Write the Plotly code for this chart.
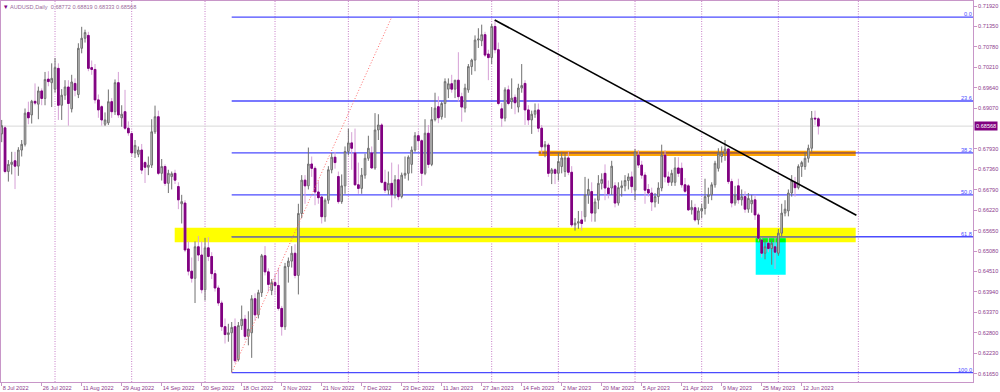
import plotly.graph_objects as go

# ---------------- data ----------------
symbol_title = "AUDUSD,Daily  0.68772 0.68819 0.68333 0.68568"

# trading-day index 0 = 8 Jul 2022 ... 245 = 19 Jun 2023
opens = [
    .6835, .6852, .6730, .6750, .6760, .6745, .6790, .6806, .6895, .6888,
    .6926, .6918, .6955, .6934, .6988, .6978, .6960, .7018, .6915, .6943,
    .6966, .6905, .6976, .6945, .7074, .7102, .7110, .7020, .7015, .6930,
    .6911, .6862, .6866, .6925, .6897, .6978, .6880, .6897, .6851, .6836,
    .6782, .6778, .6790, .6755, .6742, .6748, .6841, .6883, .6725, .6744,
    .6697, .6716, .6725, .6688, .6640, .6642, .6514, .6452, .6432, .6520,
    .6497, .6400, .6517, .6493, .6445, .6405, .6363, .6297, .6275, .6280,
    .6297, .6205, .6300, .6318, .6270, .6280, .6375, .6330, .6392, .6495,
    .6450, .6398, .6420, .6412, .6348, .6297, .6465, .6480, .6502, .6440,
    .6613, .6706, .6690, .6751, .6739, .6673, .6659, .6604, .6650, .6735,
    .6770, .6716, .6646, .6690, .6786, .6810, .6782, .6693, .6683, .6720,
    .6767, .6782, .6740, .6846, .6860, .6700, .6678, .6697, .6665, .6707,
    .6660, .6720, .6725, .6750, .6790, .6830, .6816, .6725, .6837, .6750,
    .6875, .6911, .6883, .6920, .6960, .6975, .6960, .6985, .6939, .6907,
    .6958, .7023, .7041, .7097, .7095, .7112, .7058, .7048, .7135, .7070,
    .6905, .6879, .6958, .6925, .6937, .6910, .6963, .6976, .6902, .6874,
    .6890, .6902, .6851, .6799, .6804, .6725, .6735, .6725, .6744, .6730,
    .6768, .6728, .6581, .6586, .6595, .6604, .6665, .6674, .6614, .6650,
    .6697, .6725, .6684, .6684, .6690, .6642, .6685, .6690, .6705, .6715,
    .6678, .6776, .6748, .6720, .6680, .6670, .6645, .6660, .6684, .6776,
    .6715, .6700, .6700, .6740, .6739, .6693, .6690, .6623, .6629, .6595,
    .6620, .6627, .6660, .6665, .6693, .6739, .6772, .6781, .6793, .6702,
    .6642, .6690, .6651, .6660, .6625, .6640, .6651, .6609, .6539, .6502,
    .6530, .6515, .6520, .6502, .6558, .6614, .6620, .6670, .6700, .6685,
    .6744, .6744, .6767, .6795, .6879, .68772,
]
highs = [
    .6874, .6858, .6762, .6785, .6785, .6798, .6818, .6906, .6925, .6930,
    .6976, .6967, .6962, .7008, .7010, .7032, .7047, .7032, .6960, .6985,
    .6985, .7000, .6990, .7088, .7134, .7126, .7120, .7040, .7030, .6945,
    .6915, .6895, .6959, .6935, .6987, .7008, .6915, .6958, .6870, .6840,
    .6818, .6800, .6807, .6760, .6772, .6876, .6914, .6900, .6765, .6750,
    .6735, .6730, .6735, .6700, .6665, .6650, .6535, .6490, .6535, .6550,
    .6535, .6545, .6547, .6505, .6455, .6412, .6370, .6320, .6305, .6310,
    .6320, .6310, .6356, .6330, .6340, .6385, .6390, .6400, .6500, .6522,
    .6460, .6430, .6445, .6461, .6355, .6475, .6490, .6522, .6527, .6640,
    .6720, .6720, .6797, .6772, .6745, .6703, .6662, .6655, .6745, .6782,
    .6785, .6730, .6722, .6800, .6850, .6840, .6850, .6755, .6740, .6780,
    .6830, .6800, .6893, .6890, .6865, .6735, .6730, .6755, .6720, .6750,
    .6727, .6772, .6775, .6800, .6840, .6840, .6820, .6876, .6860, .6910,
    .6950, .6940, .6925, .6990, .6990, .7000, .6985, .7063, .6950, .6975,
    .7030, .7045, .7110, .7130, .7140, .7120, .7070, .7142, .7153, .7090,
    .6921, .6965, .6970, .6990, .6945, .6975, .7030, .6985, .6915, .6900,
    .6920, .6920, .6860, .6815, .6810, .6740, .6740, .6783, .6785, .6780,
    .6785, .6745, .6600, .6620, .6620, .6715, .6710, .6700, .6655, .6720,
    .6725, .6750, .6705, .6760, .6700, .6700, .6705, .6720, .6725, .6730,
    .6793, .6790, .6760, .6728, .6695, .6685, .6670, .6700, .6805, .6790,
    .6730, .6735, .6770, .6770, .6755, .6712, .6695, .6650, .6640, .6630,
    .6640, .6710, .6685, .6700, .6760, .6795, .6800, .6818, .6795, .6710,
    .6690, .6710, .6680, .6675, .6670, .6665, .6665, .6615, .6545, .6540,
    .6545, .6540, .6545, .6570, .6640, .6650, .6680, .6720, .6715, .6750,
    .6760, .6785, .6805, .6899, .6900, .68819,
]
lows = [
    .6812, .6725, .6702, .6722, .6681, .6718, .6772, .6800, .6862, .6864,
    .6915, .6876, .6915, .6915, .6968, .6910, .6950, .6874, .6874, .6930,
    .6858, .6895, .6940, .6935, .7060, .7090, .7010, .7000, .6920, .6880,
    .6858, .6857, .6860, .6880, .6888, .6880, .6855, .6846, .6830, .6772,
    .6768, .6770, .6723, .6698, .6720, .6740, .6835, .6720, .6705, .6690,
    .6670, .6680, .6695, .6625, .6585, .6505, .6440, .6420, .6363, .6480,
    .6390, .6370, .6480, .6430, .6395, .6355, .6285, .6250, .6255, .6170,
    .6195, .6200, .6288, .6260, .6245, .6210, .6315, .6320, .6380, .6440,
    .6395, .6385, .6385, .6342, .6272, .6288, .6420, .6462, .6432, .6387,
    .6600, .6640, .6680, .6715, .6636, .6640, .6585, .6590, .6640, .6725,
    .6738, .6640, .6640, .6668, .6775, .6735, .6690, .6668, .6668, .6710,
    .6760, .6738, .6735, .6818, .6697, .6670, .6665, .6630, .6655, .6650,
    .6655, .6710, .6705, .6725, .6785, .6790, .6690, .6720, .6740, .6745,
    .6870, .6865, .6875, .6880, .6935, .6950, .6935, .6925, .6869, .6895,
    .6950, .7000, .7010, .7075, .7080, .7050, .6985, .7030, .7060, .6915,
    .6855, .6870, .6915, .6905, .6890, .6895, .6950, .6860, .6860, .6835,
    .6880, .6840, .6780, .6770, .6715, .6695, .6695, .6705, .6725, .6715,
    .6720, .6575, .6565, .6570, .6565, .6590, .6640, .6590, .6590, .6625,
    .6680, .6650, .6655, .6665, .6630, .6635, .6660, .6675, .6680, .6670,
    .6650, .6740, .6710, .6640, .6660, .6620, .6630, .6640, .6675, .6700,
    .6690, .6690, .6690, .6715, .6685, .6670, .6620, .6610, .6590, .6582,
    .6600, .6610, .6640, .6650, .6685, .6730, .6755, .6760, .6695, .6630,
    .6635, .6640, .6635, .6615, .6615, .6615, .6595, .6535, .6490, .6485,
    .6505, .6470, .6458, .6495, .6550, .6605, .6605, .6660, .6660, .6680,
    .6715, .6735, .6755, .6785, .6860, .68333,
]
closes = [
    .6858, .6730, .6750, .6756, .6745, .6790, .6806, .6893, .6880, .6926,
    .6921, .6955, .6934, .6987, .6981, .6990, .7020, .6915, .6943, .6966,
    .6920, .6980, .6957, .7074, .7102, .7118, .7018, .7015, .6930, .6902,
    .6874, .6874, .6925, .6897, .6978, .6888, .6890, .6851, .6838, .6782,
    .6803, .6790, .6734, .6742, .6748, .6841, .6883, .6725, .6744, .6697,
    .6725, .6724, .6706, .6651, .6646, .6511, .6452, .6432, .6520, .6497,
    .6400, .6517, .6493, .6445, .6405, .6363, .6297, .6275, .6280, .6295,
    .6202, .6300, .6318, .6270, .6290, .6375, .6330, .6392, .6495, .6450,
    .6415, .6420, .6412, .6348, .6297, .6465, .6480, .6502, .6440, .6613,
    .6706, .6690, .6751, .6739, .6673, .6657, .6604, .6650, .6735, .6770,
    .6755, .6646, .6690, .6786, .6810, .6795, .6693, .6683, .6720, .6767,
    .6795, .6740, .6846, .6860, .6700, .6678, .6697, .6665, .6707, .6660,
    .6720, .6725, .6770, .6790, .6830, .6816, .6725, .6837, .6750, .6875,
    .6907, .6880, .6920, .6981, .6975, .6960, .6985, .6939, .6910, .6963,
    .7023, .7041, .7097, .7100, .7112, .7055, .7048, .7135, .7070, .6920,
    .6879, .6958, .6920, .6935, .6922, .6963, .6970, .6902, .6874, .6890,
    .6900, .6851, .6799, .6805, .6725, .6735, .6725, .6758, .6768, .6768,
    .6728, .6581, .6586, .6590, .6585, .6665, .6680, .6614, .6645, .6697,
    .6708, .6684, .6668, .6745, .6642, .6685, .6690, .6705, .6715, .6688,
    .6785, .6748, .6720, .6678, .6670, .6645, .6660, .6684, .6776, .6715,
    .6700, .6725, .6740, .6725, .6693, .6675, .6623, .6630, .6595, .6620,
    .6627, .6660, .6665, .6693, .6753, .6781, .6781, .6793, .6702, .6642,
    .6665, .6651, .6660, .6625, .6655, .6650, .6609, .6544, .6502, .6520,
    .6515, .6530, .6505, .6558, .6614, .6625, .6670, .6705, .6685, .6744,
    .6755, .6767, .6795, .6879, .6877, .68568,
]

# x-axis labels (every 12th trading day)
date_tick_labels = [
    "8 Jul 2022", "26 Jul 2022", "11 Aug 2022", "29 Aug 2022", "14 Sep 2022",
    "30 Sep 2022", "18 Oct 2022", "3 Nov 2022", "21 Nov 2022", "7 Dec 2022",
    "23 Dec 2022", "11 Jan 2023", "27 Jan 2023", "14 Feb 2023", "2 Mar 2023",
    "20 Mar 2023", "5 Apr 2023", "21 Apr 2023", "9 May 2023", "25 May 2023",
    "12 Jun 2023",
]
date_tick_idx = [0, 12, 24, 36, 48, 60, 72, 84, 96, 108, 120, 132, 144, 156,
                 168, 180, 192, 204, 216, 228, 240]

# month separators (bar index of first trading day of month)
month_start_idx = [16, 39, 61, 82, 104, 125, 147, 167, 190, 210, 233, 257]

price_ticks = [0.61650, 0.62230, 0.62800, 0.63370, 0.63940, 0.64510, 0.65080,
               0.65650, 0.66220, 0.66790, 0.67360, 0.67930, 0.69070,
               0.69640, 0.70210, 0.70780, 0.71350, 0.71920]

# Fibonacci retracement
fib_high = 0.7161
fib_low = 0.6169
fib_start_idx = 69
fib_levels = [0.0, 23.6, 38.2, 50.0, 61.8, 100.0]
fib_labels = ["0.0", "23.6", "38.2", "50.0", "61.8", "100.0"]
fib_anchor_idx = [69, 117]          # diagonal dotted line (low -> high)

# drawn zones  (x from/to in bar index, price low/high)
support_zone_x = [51.9, 256.2]
support_zone_y = [0.65325, 0.65733]
resist_zone_x = [161.1, 256.2]
resist_zone_y = [0.67734, 0.67882]
spike_zone_x = [226.2, 235.2]
spike_zone_y = [0.64421, 0.65437]

# descending trendline
trend_x = [147.9, 256.4]
trend_y = [0.7153, 0.6608]

last_price = 0.68568

# ---------------- styling ----------------
axis_col = "#c896c8"
label_col = "#8c3c8c"
fib_col = "#4b4bff"
FONT = "Liberation Sans"
FS = 5.6

x_range = [-0.21, 291.39]
y_range = [0.61426, 0.72060]

n = len(closes)
idx = list(range(n))

fig = go.Figure()

# full candles (wicks + up bodies)
fig.add_trace(go.Candlestick(
    x=idx, open=opens, high=highs, low=lows, close=closes,
    increasing=dict(line=dict(color="#707070", width=1), fillcolor="#c8c8c8"),
    decreasing=dict(line=dict(color="#d6a0d6", width=1), fillcolor="#800080"),
    whiskerwidth=0, hoverinfo="skip", showlegend=False,
))
# down-candle bodies drawn solid purple on top
dn = [i for i in idx if closes[i] < opens[i]]
fig.add_trace(go.Candlestick(
    x=dn, open=[opens[i] for i in dn], high=[opens[i] for i in dn],
    low=[closes[i] for i in dn], close=[closes[i] for i in dn],
    increasing=dict(line=dict(color="#800080", width=1), fillcolor="#800080"),
    decreasing=dict(line=dict(color="#800080", width=1), fillcolor="#800080"),
    whiskerwidth=0, hoverinfo="skip", showlegend=False,
))

shapes = []
# month separators
for m in month_start_idx:
    shapes.append(dict(type="line", xref="x", yref="paper", x0=m, x1=m, y0=0, y1=1,
                       line=dict(color="#c77ec7", width=1, dash="1px,1.5px"), layer="below"))
# zones
shapes.append(dict(type="rect", xref="x", yref="y", x0=support_zone_x[0], x1=support_zone_x[1],
                   y0=support_zone_y[0], y1=support_zone_y[1], fillcolor="#ffff00",
                   line=dict(width=0), layer="below"))
shapes.append(dict(type="rect", xref="x", yref="y", x0=resist_zone_x[0], x1=resist_zone_x[1],
                   y0=resist_zone_y[0], y1=resist_zone_y[1], fillcolor="#ffa500",
                   line=dict(width=0), layer="below"))
shapes.append(dict(type="rect", xref="x", yref="y", x0=spike_zone_x[0], x1=spike_zone_x[1],
                   y0=spike_zone_y[0], y1=spike_zone_y[1], fillcolor="#00ffff",
                   line=dict(width=0), layer="below"))
shapes.append(dict(type="rect", xref="x", yref="y", x0=spike_zone_x[0], x1=spike_zone_x[1],
                   y0=support_zone_y[0], y1=spike_zone_y[1], fillcolor="#00ff00",
                   line=dict(width=0), layer="below"))
# current price line
shapes.append(dict(type="line", xref="paper", yref="y", x0=0, x1=1, y0=last_price, y1=last_price,
                   line=dict(color="#d8d8d8", width=1), layer="below"))
# fib lines
fib_range = fib_high - fib_low
fib_prices = [fib_high - lv / 100.0 * fib_range for lv in fib_levels]
for lv, p in zip(fib_levels, fib_prices):
    shapes.append(dict(type="line", xref="x", yref="y", x0=fib_start_idx, x1=x_range[1],
                       y0=p, y1=p, line=dict(color=fib_col, width=1.3), layer="below"))
# 61.8 line where it crosses the yellow zone shows gray, 38.2 inside orange shows dark orange
p618 = fib_prices[4]
shapes.append(dict(type="line", xref="x", yref="y", x0=fib_start_idx, x1=support_zone_x[1],
                   y0=p618, y1=p618, line=dict(color="#808080", width=1.3), layer="below"))
p382 = fib_prices[2]
shapes.append(dict(type="line", xref="x", yref="y", x0=resist_zone_x[0], x1=resist_zone_x[1],
                   y0=p382, y1=p382, line=dict(color="#c06000", width=1.3), layer="below"))
# fib diagonal
shapes.append(dict(type="line", xref="x", yref="y", x0=fib_anchor_idx[0], x1=fib_anchor_idx[1],
                   y0=fib_low, y1=fib_high, line=dict(color="#ff6a6a", width=1, dash="1px,2px"),
                   layer="above"))
# trendline
shapes.append(dict(type="line", xref="x", yref="y", x0=trend_x[0], x1=trend_x[1],
                   y0=trend_y[0], y1=trend_y[1], line=dict(color="black", width=1.6),
                   layer="above"))

annotations = []
for lab, p in zip(fib_labels, fib_prices):
    annotations.append(dict(xref="paper", yref="y", x=1, y=p, xanchor="right", yanchor="bottom",
                            text=lab, showarrow=False, borderpad=0, yshift=-1,
                            font=dict(family=FONT, size=FS, color=fib_col)))
annotations.append(dict(xref="paper", yref="y", x=1, y=last_price, xanchor="left", yanchor="middle",
                        xshift=1, text=f"{last_price:.5f}", showarrow=False, bgcolor="#800080",
                        borderpad=1, font=dict(family=FONT, size=FS, color="white")))
annotations.append(dict(xref="paper", yref="paper", x=0, y=1, xanchor="left", yanchor="top",
                        xshift=7, yshift=-1, text=symbol_title, showarrow=False,
                        font=dict(family=FONT, size=FS, color="#9a6a9a")))
annotations.append(dict(xref="paper", yref="paper", x=0, y=1, xanchor="left", yanchor="top",
                        xshift=1, yshift=0, text="▾", showarrow=False,
                        font=dict(family=FONT, size=7, color="#800080")))

fig.update_layout(
    width=1000, height=392,
    margin=dict(l=1, r=27, t=1, b=10),
    paper_bgcolor="white", plot_bgcolor="white",
    showlegend=False,
    shapes=shapes, annotations=annotations,
    xaxis=dict(range=x_range, tickvals=date_tick_idx, ticktext=date_tick_labels,
               ticks="outside", ticklen=3, tickcolor=axis_col, showgrid=False,
               zeroline=False, showline=True, linecolor=axis_col, linewidth=1, mirror=True,
               rangeslider=dict(visible=False), ticklabelposition="outside right",
               tickangle=0,
               tickfont=dict(family=FONT, size=FS, color=label_col), fixedrange=True),
    yaxis=dict(side="right", range=y_range, tickvals=price_ticks,
               ticktext=[f"{v:.5f}" for v in price_ticks], ticks="outside", ticklen=3,
               tickcolor=axis_col, showgrid=False, zeroline=False, showline=True,
               linecolor=axis_col, linewidth=1, mirror=True,
               tickfont=dict(family=FONT, size=FS, color=label_col), fixedrange=True),
)

fig.write_html("out.html", config={"displayModeBar": False},
               post_script="document.body.style.margin='0';document.body.style.padding='0';")
